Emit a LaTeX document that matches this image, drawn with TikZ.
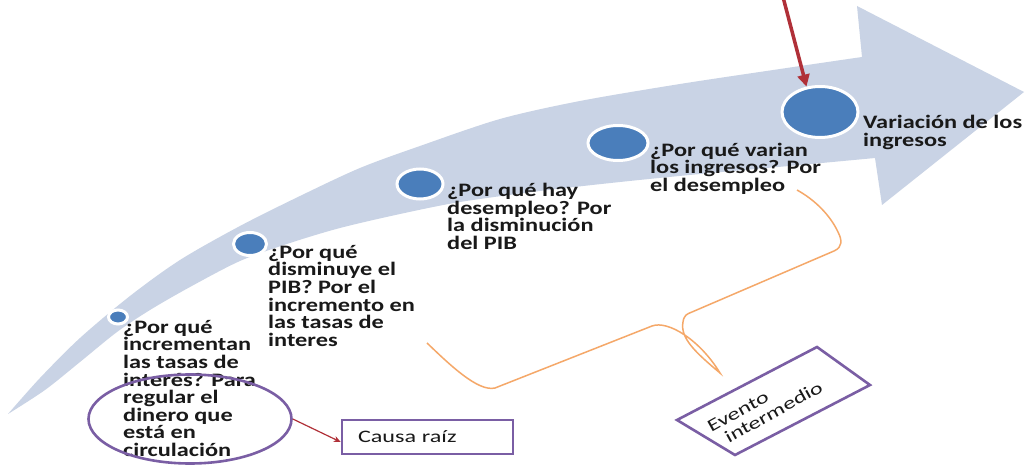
\documentclass[tikz,border=0pt]{standalone}
\usepackage{fontspec}
\setmainfont{Carlito}
\newfontfamily\lblfont{Carlito}[FakeStretch=1.28]
\newfontfamily\boxlblfont{Carlito}[FakeStretch=1.38]
\usetikzlibrary{shapes.geometric,arrows.meta}
\definecolor{bandc}{RGB}{201,211,229}
\definecolor{dotblue}{RGB}{74,126,187}
\definecolor{darkred}{RGB}{176,48,56}
\definecolor{lilac}{RGB}{122,94,164}
\definecolor{bracec}{RGB}{245,168,105}
\definecolor{ink}{RGB}{25,25,25}
\begin{document}
\begin{tikzpicture}[x=1bp,y=-1bp,
  dot/.style={ellipse, fill=dotblue, draw=white, line width=3bp, inner sep=0pt},
  lbl/.style={anchor=north west, align=left, inner sep=0pt, text=ink,
    font=\lblfont\bfseries\fontsize{19bp}{17.6bp}\selectfont},
  boxfont/.style={font=\boxlblfont\fontsize{17.5bp}{18bp}\selectfont, text=ink},
  purpleline/.style={draw=lilac, line width=2.6bp}]
\useasboundingbox (0,0) rectangle (1025,466);
\fill[white] (0,0) rectangle (1025,466);
% curved arrow band
\fill[bandc] plot[smooth] coordinates {(8,414) (40,378) (80,338) (130,296) (180,260) (240,226) (300,196) (360,168) (420,146) (500,119) (580,101) (680,84) (780,69) (862,57)}
  -- (857,6) -- (1024,92) -- (882,205) -- (875,158)
  -- plot[smooth] coordinates {(875,158) (800,165) (700,174) (620,182) (540,191) (460,202) (400,214) (340,228) (290,243) (240,261) (190,287) (150,310) (117,332) (80,362) (45,390) (8,414)} -- cycle;
% dots
\node[dot, minimum width=19bp, minimum height=14bp] (c1) at (118,317) {};
\node[dot, minimum width=33bp, minimum height=23bp] (c2) at (250,244) {};
\node[dot, minimum width=46bp, minimum height=30bp] (c3) at (420,184) {};
\node[dot, minimum width=60bp, minimum height=35bp] (c4) at (618,143) {};
\node[dot, minimum width=76bp, minimum height=51bp] (c5) at (820,112) {};
% labels
\node[lbl] (t1) at (123,320) {¿Por qué\\incrementan\\las tasas de\\interés? Para\\regular el\\dinero que\\está en\\circulación};
\node[lbl] (t2) at (268,245) {¿Por qué\\disminuye el\\PIB? Por el\\incremento en\\las tasas de\\interes};
\node[lbl] (t3) at (447,183) {¿Por qué hay\\desempleo? Por\\la disminución\\del PIB};
\node[lbl, font=\lblfont\bfseries\fontsize{19bp}{16.3bp}\selectfont] (t4) at (650,143) {¿Por qué varian\\los ingresos? Por\\el desempleo};
\node[lbl] (t5) at (863,115) {Variación de los\\ingresos};
% root cause ellipse and box
\node[ellipse, purpleline, minimum width=203bp, minimum height=89bp, inner sep=0pt] (root) at (190,419) {};
\node[purpleline, boxfont, minimum width=171bp, minimum height=34bp, text width=139bp, inner xsep=16bp, align=left] (causa) at (427.5,437) {Causa raíz};
\draw[darkred, line width=1.2bp, -{Stealth[length=7bp,width=6bp]}] (root.east) -- ([yshift=-5bp]causa.west);
% top red arrow
\coordinate (top) at (783,-3);
\draw[darkred, line width=3.5bp, -{Triangle[length=12bp,width=12bp]}] (top) -- (c5.118);
% intermediate event box
\draw[purpleline] (677,420) -- (817,347) -- (870,385) -- (735,455) -- cycle;
\node[rotate=29, align=left, boxfont, inner sep=0pt] (evento) at (765,407) {Evento\\\hspace*{10bp}intermedio};
% brace
\draw[bracec, line width=1.5bp] (427,343) .. controls (450,365) and (478,392) .. (495,388)
  -- (652,326)
  .. controls (668,320) and (700,340) .. (720,373)
  .. controls (695,352) and (680,338) .. (683,322)
  .. controls (684,315) and (687,314) .. (692,312)
  -- (834,251)
  .. controls (843,247) and (842,240) .. (838,232)
  .. controls (830,215) and (815,200) .. (797,190);
\end{tikzpicture}
\end{document}
